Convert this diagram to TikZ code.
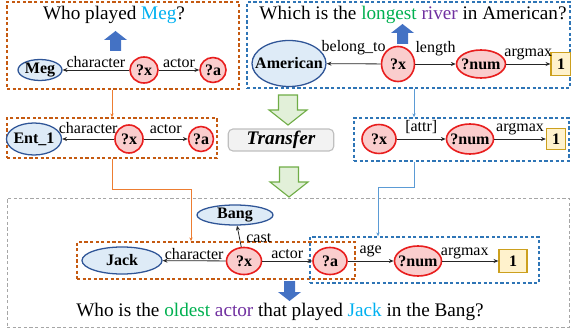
\documentclass[tikz,border=0pt]{standalone}
\usepackage{fontspec}
\setmainfont{Liberation Serif}
\usetikzlibrary{arrows.meta, positioning, shapes.geometric, fit}
\definecolor{entfill}{RGB}{222,235,247}
\definecolor{entborder}{RGB}{47,85,151}
\definecolor{varfill}{RGB}{250,205,205}
\definecolor{varborder}{RGB}{232,30,30}
\definecolor{valfill}{RGB}{255,242,204}
\definecolor{valborder}{RGB}{204,160,30}
\definecolor{oboxc}{RGB}{197,90,17}
\definecolor{olinkc}{RGB}{237,125,49}
\definecolor{bboxc}{RGB}{46,117,182}
\definecolor{blinkc}{RGB}{91,155,213}
\definecolor{gboxc}{RGB}{166,166,166}
\definecolor{qblue}{RGB}{68,114,196}
\definecolor{grfill}{RGB}{226,240,217}
\definecolor{grborder}{RGB}{112,173,71}
\definecolor{trfill}{RGB}{242,242,242}
\definecolor{trborder}{RGB}{191,191,191}
\definecolor{wgreen}{RGB}{0,176,80}
\definecolor{wpurple}{RGB}{112,48,160}
\definecolor{wcyan}{RGB}{0,176,240}
\tikzset{
  ent/.style={ellipse, draw=entborder, line width=0.8pt, fill=entfill,
              inner xsep=-6pt, inner ysep=0pt, font=\bfseries},
  var/.style={ellipse, draw=varborder, line width=1pt, fill=varfill,
              inner xsep=-6pt, inner ysep=0pt, font=\bfseries},
  val/.style={rectangle, draw=valborder, line width=0.8pt, fill=valfill,
              inner sep=0pt, font=\bfseries},
  obox/.style={draw=oboxc, dash pattern=on 2pt off 1.5pt, line width=0.8pt, inner sep=0pt},
  bbox/.style={draw=bboxc, dash pattern=on 2pt off 1.5pt, line width=0.8pt, inner sep=0pt},
  gbox/.style={draw=gboxc, dash pattern=on 2pt off 1.5pt, line width=0.6pt, inner sep=0pt},
  lbl/.style={above, inner sep=1pt},
  arr/.style={-{Stealth[length=3pt, width=2.5pt]}, line width=0.5pt, draw=black!85},
  olink/.style={-{Stealth[length=2.5pt, width=2pt]}, line width=0.6pt, draw=olinkc},
  blink/.style={-{Stealth[length=2.5pt, width=2pt]}, line width=0.6pt, draw=blinkc},
  % block arrows, tip at the origin, pointing up
  qarrow/.pic={\path[fill=qblue] (0,0) -- (11.5,9) -- (5.5,9) -- (5.5,20)
               -- (-5.5,20) -- (-5.5,9) -- (-11.5,9) -- cycle;},
  garrow/.pic={\path[draw=grborder, fill=grfill, line width=0.7pt, line join=miter]
               (0,0) -- (19,15) -- (9.5,15) -- (9.5,30) -- (-9.5,30) -- (-9.5,15)
               -- (-19,15) -- cycle;},
  trbox/.style={rectangle, rounded corners=3pt, draw=trborder, line width=0.7pt, fill=trfill,
                minimum width=66pt, minimum height=13.75pt, inner sep=0pt,
                font=\large\bfseries\itshape},
  qtext/.style={font=\large, inner sep=0pt}
}

\begin{document}
\begin{tikzpicture}[x=0.625pt, y=-0.625pt]
\useasboundingbox (0,0) rectangle (571,331);

% source question 1
\node[obox, fit={(7,2) (239,89)}] (qa) {};
\node[qtext] (qat) at (114,15) {Who played \textcolor{wcyan}{Meg}?};
\pic (qaup) at (115.5,31) {qarrow};
\node[ent, minimum width=27.5pt, minimum height=13.1pt] (meg) at (40,70) {Meg};
\node[var, minimum width=17.5pt, minimum height=16.25pt] (qax) at (144,70) {?x};
\node[var, minimum width=16.25pt, minimum height=15.6pt] (qaa) at (213,70) {?a};
\draw[arr] (qax) -- node[lbl] {character} (meg);
\draw[arr] (qax) -- node[lbl] {actor} (qaa);

% source question 2
\node[bbox, fit={(247,2) (570,88)}] (qb) {};
\node[qtext] (qbt) at (413,15) {Which is the \textcolor{wgreen}{longest} \textcolor{wpurple}{river} in American?};
\pic (qbup) at (402.5,24) {qarrow};
\node[ent, minimum width=46.25pt, minimum height=28.75pt] (amer) at (289,63.5) {American};
\node[var, minimum width=20.6pt, minimum height=21.9pt] (qbx) at (398,64) {?x};
\node[var, minimum width=30.6pt, minimum height=17.5pt] (qbn) at (481,64) {?num};
\node[val, minimum width=12.5pt, minimum height=14.4pt] (qbv) at (561,64) {1};
\draw[arr] (qbx) -- node[lbl, yshift=4pt] {belong\_to} (amer);
\draw[arr] (qbx) -- node[lbl, yshift=4pt] {length} (qbn);
\draw[arr] (qbn) -- node[lbl, yshift=1.5pt] {argmax} (qbv);

% extracted templates
\node[obox, fit={(7,118) (217,158)}] (ta) {};
\node[ent, minimum width=34.4pt, minimum height=20pt] (ent) at (34,139) {Ent\_1};
\node[var, minimum width=17.5pt, minimum height=17.5pt] (tax) at (129,139) {?x};
\node[var, minimum width=15.6pt, minimum height=15.6pt] (taa) at (201,139) {?a};
\draw[arr] (tax) -- node[lbl, yshift=2pt] {character} (ent);
\draw[arr] (tax) -- node[lbl, yshift=2pt] {actor} (taa);

\node[bbox, fit={(354,118) (569,161)}] (tb) {};
\node[var, minimum width=21.25pt, minimum height=18.1pt] (tbx) at (379,139) {?x};
\node[var, minimum width=29.4pt, minimum height=18.75pt] (tbn) at (470,139) {?num};
\node[val, minimum width=11.9pt, minimum height=13.1pt] (tbv) at (556,139) {1};
\draw[arr] (tbx) -- node[lbl, yshift=2pt] {[attr]} (tbn);
\draw[arr] (tbn) -- node[lbl, yshift=1pt] {argmax} (tbv);

\pic[rotate=180] (g1) at (288,125) {garrow};
\node[trbox] (tr) at (281,140) {Transfer};
\pic[rotate=180] (g2) at (289,197) {garrow};

% composed question
\node[gbox, fit={(7,198) (569,327)}] (nq) {};
\node[obox, fit={(77,242) (355,279)}] (na) {};
\node[bbox, fit={(310,237) (539,283)}] (nb) {};
\node[ent, minimum width=47.5pt, minimum height=12.5pt] (bang) at (235,215) {Bang};
\node[ent, minimum width=50pt, minimum height=16.9pt] (jack) at (122,260.5) {Jack};
\node[var, minimum width=21.9pt, minimum height=16.9pt] (nx) at (244,261) {?x};
\node[var, minimum width=21.25pt, minimum height=16.9pt] (na1) at (330,261) {?a};
\node[var, minimum width=29.4pt, minimum height=18.75pt] (nn) at (418,261) {?num};
\node[val, minimum width=17.5pt, minimum height=14.4pt] (nv) at (513,261) {1};
\draw[arr] (nx) -- node[lbl, yshift=-0.5pt] {character} (jack);
\draw[arr] (nx) -- node[lbl] {actor} (na1);
\draw[arr] (nx) -- node[right, pos=0.4, inner sep=4pt] {cast} (bang);
\draw[arr] (na1) -- node[lbl, yshift=1pt] {age} (nn);
\draw[arr] (nn) -- node[lbl, pos=0.4] {argmax} (nv);
\pic[rotate=180] (ndown) at (289.5,301) {qarrow};
\node[qtext] (nqt) at (280,312) {Who is the \textcolor{wgreen}{oldest} \textcolor{wpurple}{actor} that played \textcolor{wcyan}{Jack} in the Bang?};

% links between panels
\coordinate (obend) at (191,189);
\coordinate (bdrop) at (414,100);
\coordinate (bbend) at (378,187);
\draw[olink] (qa.south -| ta.north) -- (ta.north);
\draw[olink] (ta.south) |- (obend) -- (obend |- na.north);
\draw[blink] (bdrop |- qb.south) -- (bdrop |- tb.north);
\draw[blink] (bdrop |- tb.south) |- (bbend) -- (bbend |- nb.north);
\end{tikzpicture}
\end{document}
